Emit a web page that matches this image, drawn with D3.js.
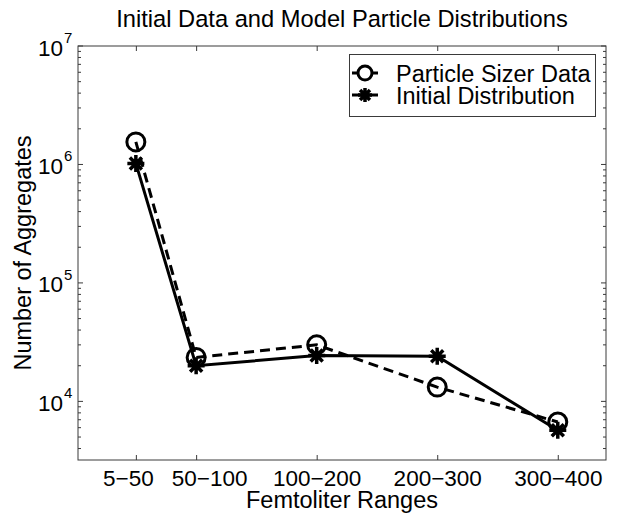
<!DOCTYPE html>
<html>
<head>
<meta charset="utf-8">
<script src="https://cdn.jsdelivr.net/npm/d3@7"></script>
<style>
  body { margin: 0; background: #fff; }
  svg { display: block; }
  text { font-family: "Liberation Sans", Arial, Helvetica, sans-serif; fill: #000; }
</style>
</head>
<body>
<svg id="chart" width="618" height="525"></svg>
<script>
// ---- data ----
const categories = ["5\u221250", "50\u2212100", "100\u2212200", "200\u2212300", "300\u2212400"];
const categoryPositions = [0.5, 1, 2, 3, 4];
const particleSizerData = [1.55e6, 2.35e4, 3.0e4, 1.32e4, 6.7e3];
const initialDistribution = [1.02e6, 2.0e4, 2.44e4, 2.4e4, 5.7e3];
const yTickExponents = [4, 5, 6, 7];
const seriesNames = ["Particle Sizer Data", "Initial Distribution"];
const titleText = "Initial Data and Model Particle Distributions";
const xLabelText = "Femtoliter Ranges";
const yLabelText = "Number of Aggregates";

// ---- layout ----
const L = 78, R = 606, T = 46, B = 460;
const labelNudge = [-8, 13, 0, 0, 0]; // horizontal shift of crowded tick labels (px)
const svg = d3.select("#chart");
const x = d3.scaleLinear().domain([0.02, 4.4]).range([L, R]);
const y = d3.scaleLog().domain([3200, 1e7]).range([B, T]);
const axisColor = "#3a3a3a";
const FONT = '"Liberation Sans", Arial, sans-serif';

// frame
svg.append("rect").attr("x", L).attr("y", T).attr("width", R - L).attr("height", B - T)
  .attr("fill", "none").attr("stroke", axisColor).attr("stroke-width", 1);

// x axes (bottom and top), inward ticks
const xb = svg.append("g").attr("transform", `translate(0,${B})`)
  .call(d3.axisBottom(x).tickValues(categoryPositions).tickSizeInner(-5).tickSizeOuter(0)
    .tickFormat((d, i) => categories[i]));
xb.select(".domain").remove();
xb.selectAll(".tick line").attr("stroke", axisColor);
xb.selectAll(".tick text").attr("font-size", 22.5).attr("y", 25.5).attr("dy", 0).attr("fill", "#000")
  .attr("x", (d, i) => labelNudge[i])
  .style("font-family", FONT);

const xt = svg.append("g").attr("transform", `translate(0,${T})`)
  .call(d3.axisTop(x).tickValues(categoryPositions).tickSizeInner(-5).tickSizeOuter(0).tickFormat(""));
xt.select(".domain").remove();
xt.selectAll(".tick line").attr("stroke", axisColor);

// y minor ticks
const minorVals = [];
for (let e = 3; e <= 6; e++) for (let m = 2; m <= 9; m++) {
  const v = m * Math.pow(10, e);
  if (v >= 3200 && v <= 1e7) minorVals.push(v);
}
const majorVals = yTickExponents.map(e => Math.pow(10, e));

[[L, 1], [R, -1]].forEach(([x0, dir]) => {
  svg.append("g").selectAll("line").data(minorVals).join("line")
    .attr("x1", x0).attr("x2", x0 + dir * 3)
    .attr("y1", d => y(d)).attr("y2", d => y(d))
    .attr("stroke", axisColor).attr("stroke-width", 1);
  svg.append("g").selectAll("line").data(majorVals).join("line")
    .attr("x1", x0).attr("x2", x0 + dir * 5)
    .attr("y1", d => y(d)).attr("y2", d => y(d))
    .attr("stroke", axisColor).attr("stroke-width", 1);
});

// y tick labels 10^n
svg.append("g").selectAll("text").data(yTickExponents).join("text")
  .attr("x", 63).attr("y", d => y(Math.pow(10, d)) + 9.5)
  .attr("text-anchor", "end").attr("font-size", 22.5)
  .text("10");
svg.append("g").selectAll("text").data(yTickExponents).join("text")
  .attr("x", 64).attr("y", d => y(Math.pow(10, d)) - 3)
  .attr("font-size", 15)
  .text(d => d);

// titles
svg.append("text").attr("x", (L + R) / 2).attr("y", 27).attr("text-anchor", "middle")
  .attr("font-size", 23.7).text(titleText);
svg.append("text").attr("x", (L + R) / 2).attr("y", 508).attr("text-anchor", "middle")
  .attr("font-size", 23.5).text(xLabelText);
svg.append("text").attr("transform", `translate(31,${(T + B) / 2}) rotate(-90)`)
  .attr("text-anchor", "middle").attr("font-size", 23.5).text(yLabelText);

// series
const pts1 = categoryPositions.map((p, i) => [x(p), y(particleSizerData[i])]);
const pts2 = categoryPositions.map((p, i) => [x(p), y(initialDistribution[i])]);
const line = d3.line();

function starPath(cx, cy, r) {
  const d = r * Math.SQRT1_2;
  return `M${cx - r},${cy}L${cx + r},${cy}M${cx},${cy - r}L${cx},${cy + r}` +
    `M${cx - d},${cy - d}L${cx + d},${cy + d}M${cx - d},${cy + d}L${cx + d},${cy - d}`;
}

svg.append("path").attr("d", line(pts1)).attr("fill", "none").attr("stroke", "#000")
  .attr("stroke-width", 3).attr("stroke-dasharray", "10,6");
svg.append("path").attr("d", line(pts2)).attr("fill", "none").attr("stroke", "#000")
  .attr("stroke-width", 3);

svg.append("g").selectAll("circle").data(pts1).join("circle")
  .attr("cx", d => d[0]).attr("cy", d => d[1]).attr("r", 9)
  .attr("fill", "none").attr("stroke", "#000").attr("stroke-width", 3);
svg.append("g").selectAll("path").data(pts2).join("path")
  .attr("d", d => starPath(d[0], d[1], 8.5)).attr("fill", "none")
  .attr("stroke", "#000").attr("stroke-width", 3.5);

// legend
const lg = svg.append("g");
lg.append("rect").attr("x", 349.5).attr("y", 54.5).attr("width", 246).attr("height", 62)
  .attr("fill", "#fff").attr("stroke", axisColor).attr("stroke-width", 1);
const rowsY = [73, 95];
lg.append("line").attr("x1", 352).attr("x2", 378).attr("y1", rowsY[0]).attr("y2", rowsY[0])
  .attr("stroke", "#000").attr("stroke-width", 3).attr("stroke-dasharray", "6,14");
lg.append("circle").attr("cx", 365).attr("cy", rowsY[0]).attr("r", 7)
  .attr("fill", "none").attr("stroke", "#000").attr("stroke-width", 3);
lg.append("line").attr("x1", 352).attr("x2", 378).attr("y1", rowsY[1]).attr("y2", rowsY[1])
  .attr("stroke", "#000").attr("stroke-width", 3);
lg.append("path").attr("d", starPath(365, rowsY[1], 7)).attr("fill", "none")
  .attr("stroke", "#000").attr("stroke-width", 3.5);
lg.selectAll("text").data(seriesNames).join("text")
  .attr("x", 396).attr("y", (d, i) => rowsY[i] + 8.5).attr("font-size", 23.5).text(d => d);
</script>
</body>
</html>
